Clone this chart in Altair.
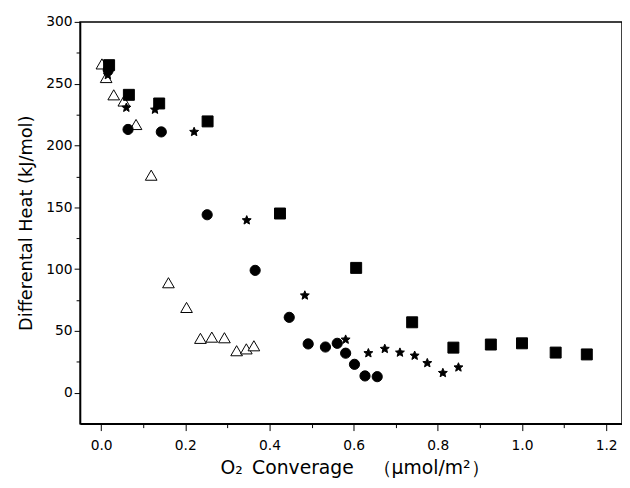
import altair as alt
import pandas as pd

# Open triangles
tri_x = [0.002, 0.012, 0.030, 0.054, 0.083, 0.119, 0.160, 0.203, 0.236, 0.263, 0.293, 0.322, 0.345, 0.363]
tri_y = [266, 255, 241, 236, 217, 176, 89, 69, 44, 45, 44.5, 34, 35.5, 38]
# Filled squares
sq_x = [0.019, 0.066, 0.138, 0.253, 0.425, 0.606, 0.739, 0.837, 0.926, 1.000, 1.080, 1.154]
sq_y = [265, 241, 234, 219.5, 145, 101, 57, 36.5, 39, 40, 32.5, 31]
# Filled circles
circ_x = [0.017, 0.064, 0.143, 0.252, 0.366, 0.447, 0.492, 0.533, 0.561, 0.581, 0.602, 0.627, 0.656]
circ_y = [261, 213, 211, 144, 99, 61, 39.5, 37, 40, 32, 23, 13.6, 13]
# Filled stars
star_x = [0.016, 0.060, 0.128, 0.221, 0.346, 0.484, 0.581, 0.635, 0.674, 0.710, 0.745, 0.775, 0.812, 0.849]
star_y = [257, 230.6, 229, 211, 139.5, 78.7, 43, 32, 35.5, 32.5, 30, 24, 16, 20.5]

series_names = ["triangle", "square", "circle", "star"]
x_ticks = [0.0, 0.1, 0.2, 0.3, 0.4, 0.5, 0.6, 0.7, 0.8, 0.9, 1.0, 1.1, 1.2]
y_ticks = [0, 25, 50, 75, 100, 125, 150, 175, 200, 225, 250, 275, 300]

STAR = ("M0,-1L0.265,-0.364L0.951,-0.309L0.428,0.139L0.588,0.809L0,0.45"
        "L-0.588,0.809L-0.428,0.139L-0.951,-0.309L-0.265,-0.364Z")

rows = []
for name, xs, ys in zip(series_names, [tri_x, sq_x, circ_x, star_x], [tri_y, sq_y, circ_y, star_y]):
    for a, b in zip(xs, ys):
        rows.append({"x": a, "y": b, "series": name})
df = pd.DataFrame(rows)

FONT = "DejaVu Sans"
xscale = alt.Scale(domain=[-0.05, 1.2376], nice=False, zero=False)
yscale = alt.Scale(domain=[-25, 300], nice=False, zero=False)

x_minor_test = "abs(round(datum.value * 10)) % 2 == 1"
y_minor_test = "datum.value % 50 != 0"

chart = alt.Chart(df).mark_point(filled=False, strokeWidth=1, opacity=1).encode(
    x=alt.X("x:Q", scale=xscale, axis=alt.Axis(
        orient="bottom", values=x_ticks,
        labelExpr="abs(round(datum.value * 10)) % 2 == 0 ? format(datum.value, '.1f') : ''",
        title="O₂\u2002Converage\u2003（μmol/m²）",
        tickSize=7, tickColor="black", tickWidth=1,
        tickDash={"condition": {"test": x_minor_test, "value": [4, 20]}, "value": [20, 0]},
        domainColor="black", domainWidth=1.5,
        labelFont=FONT, labelFontSize=14, labelColor="black", labelPadding=8,
        titleFont=FONT, titleFontSize=19, titleFontWeight="normal", titleColor="black",
        titlePadding=7, titleX=278, grid=False)),
    y=alt.Y("y:Q", scale=yscale, axis=alt.Axis(
        orient="left", values=y_ticks,
        labelExpr="datum.value % 50 == 0 ? format(datum.value, 'd') : ''",
        title="Differental Heat (kJ/mol)",
        tickSize=6, tickColor="black", tickWidth=1,
        tickDash={"condition": {"test": y_minor_test, "value": [4, 20]}, "value": [20, 0]},
        domainColor="black", domainWidth=1.5,
        labelFont=FONT, labelFontSize=14, labelColor="black", labelPadding=2,
        titleFont=FONT, titleFontSize=18, titleFontWeight="normal", titleColor="black",
        titlePadding=10, grid=False)),
    shape=alt.Shape("series:N", scale=alt.Scale(domain=series_names,
                    range=["triangle-up", "square", "circle", STAR]), legend=None),
    size=alt.Size("series:N", scale=alt.Scale(domain=series_names, range=[140, 90, 80, 260]), legend=None),
    fill=alt.Fill("series:N", scale=alt.Scale(domain=series_names,
                  range=["white", "black", "black", "black"]), legend=None),
    stroke=alt.value("black"),
).properties(
    width=549, height=407,
    autosize=alt.AutoSizeParams(type="none"),
    padding={"left": 73, "top": 11, "right": 0, "bottom": 54},
    background="white",
).configure_view(stroke="black", strokeWidth=1.5)

chart.save("out.html", embed_options={"renderer": "svg", "actions": False})
